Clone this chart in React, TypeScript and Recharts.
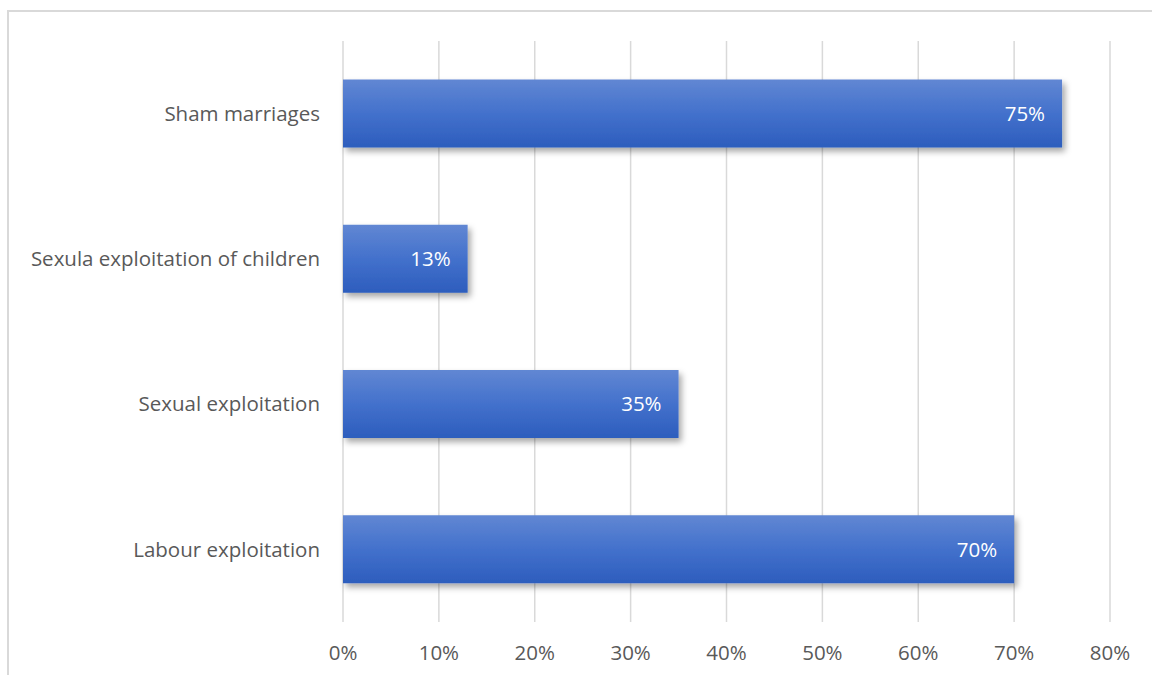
import React from 'react';
import { BarChart, Bar, XAxis, YAxis, CartesianGrid, LabelList } from 'recharts';

// categories listed top to bottom as they appear
const categories = ['Sham marriages', 'Sexula exploitation of children', 'Sexual exploitation', 'Labour exploitation'];
const shares = [75, 13, 35, 70];
const xTicks = [0, 10, 20, 30, 40, 50, 60, 70, 80];

const data = categories.map((name, i) => ({ name, value: shares[i] }));

const FONT = '"Open Sans", "Liberation Sans", sans-serif';
const FS = 20.5;

export default function App() {
  return (
    <div style={{ position: 'absolute', left: 0, top: 0, width: 1152, height: 675, background: '#fff', overflow: 'hidden', fontFamily: FONT }}>
      <div style={{ position: 'absolute', left: 7, top: 10, width: 1200, height: 700, border: '2px solid #d9d9d9', boxSizing: 'border-box' }} />
      <div style={{ position: 'absolute', left: 0, top: 0 }}>
        <BarChart
          width={1152}
          height={675}
          data={data}
          layout="vertical"
          margin={{ top: 41, right: 42, bottom: 0, left: 0 }}
          barCategoryGap="26.5%"
        >
          <defs>
            <linearGradient id="barFill" x1="0" y1="0" x2="0" y2="1">
              <stop offset="0%" stopColor="#6187d3" />
              <stop offset="50%" stopColor="#4371cc" />
              <stop offset="100%" stopColor="#2d5dbd" />
            </linearGradient>
            <filter id="barShadow" x="-5%" y="-20%" width="115%" height="150%">
              <feDropShadow dx="3" dy="4" stdDeviation="3" floodColor="#000" floodOpacity="0.35" />
            </filter>
          </defs>
          <CartesianGrid horizontal={false} stroke="#d9d9d9" strokeWidth={1.5} />
          <XAxis
            type="number"
            domain={[0, 80]}
            ticks={xTicks}
            tickFormatter={(v) => `${v}%`}
            axisLine={false}
            tickLine={false}
            tickSize={0}
            tickMargin={23}
            height={53}
            interval={0}
            tick={{ fill: '#595959', fontSize: FS, fontFamily: FONT }}
          />
          <YAxis
            type="category"
            dataKey="name"
            axisLine={false}
            tickLine={false}
            tickSize={0}
            tickMargin={23}
            width={343}
            tick={{ fill: '#595959', fontSize: FS, fontFamily: FONT }}
          />
          <Bar dataKey="value" fill="url(#barFill)" filter="url(#barShadow)" isAnimationActive={false}>
            <LabelList
              dataKey="value"
              position="insideRight"
              offset={17}
              formatter={(v: number) => `${v}%`}
              style={{ fill: '#ffffff', fontSize: FS, fontFamily: FONT }}
            />
          </Bar>
        </BarChart>
      </div>
    </div>
  );
}
